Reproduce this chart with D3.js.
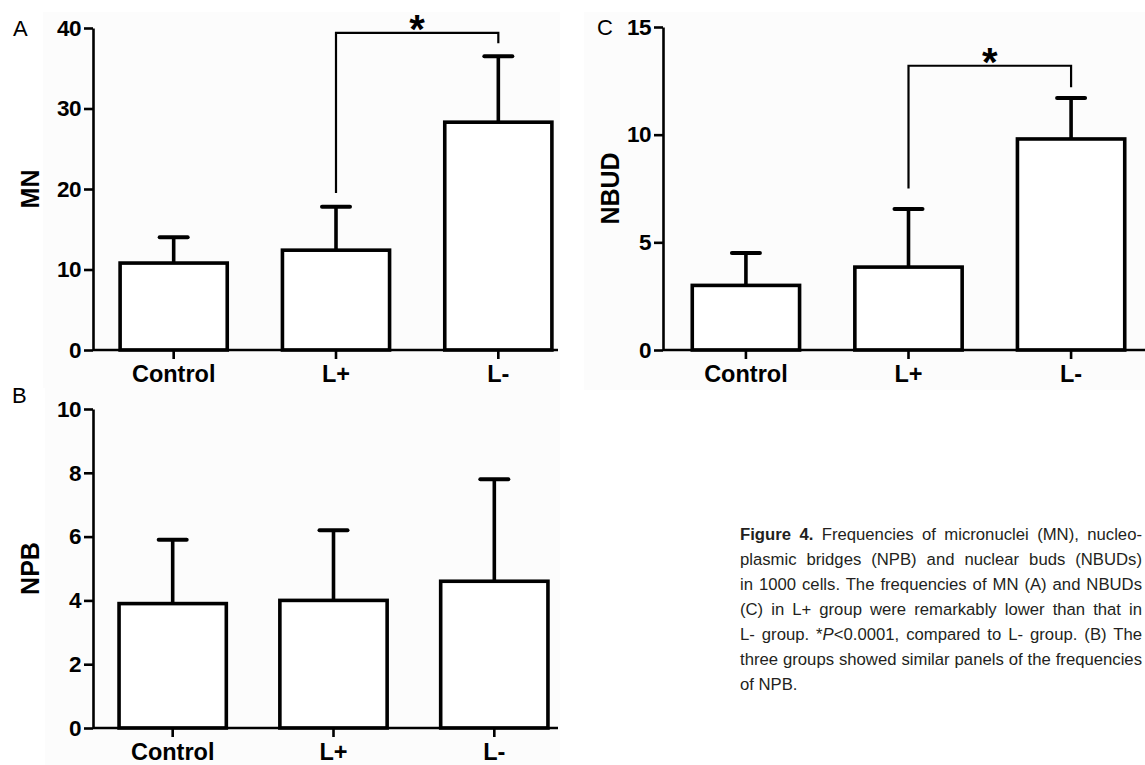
<!DOCTYPE html>
<html>
<head>
<meta charset="utf-8">
<script src="https://cdn.jsdelivr.net/npm/d3@7"></script>
<style>
  body { margin: 0; background: #fff; }
  svg { display: block; }
</style>
</head>
<body>
<svg id="fig" width="1145" height="765"></svg>
<script>
// groups
var cats = ['Control', 'L+', 'L-'];

// MN (panel A)
var mnMean = [10.8, 12.4, 28.3];
var mnSd = [3.2, 5.4, 8.2];
var mnTicks = [0, 10, 20, 30, 40];
var mnSig = { from: 'L+', to: 'L-', low: 19.5, top: 39.4, end: 38.1, mark: '*' };

// NPB (panel B)
var npbMean = [3.9, 4.0, 4.6];
var npbSd = [2.0, 2.2, 3.2];
var npbTicks = [0, 2, 4, 6, 8, 10];

// NBUD (panel C)
var nbudMean = [3.0, 3.85, 9.8];
var nbudSd = [1.5, 2.7, 1.9];
var nbudTicks = [0, 5, 10, 15];
var nbudSig = { from: 'L+', to: 'L-', low: 7.5, top: 13.2, end: 12.2, mark: '*' };

var caption = [
  [{ t: 'Figure 4.', b: 1 }, { t: ' Frequencies of micronuclei (MN), nucleo-' }],
  [{ t: 'plasmic bridges (NPB) and nuclear buds (NBUDs)' }],
  [{ t: 'in 1000 cells. The frequencies of MN (A) and NBUDs' }],
  [{ t: '(C) in L+ group were remarkably lower than that in' }],
  [{ t: 'L- group. *' }, { t: 'P', i: 1 }, { t: '<0.0001, compared to L- group. (B) The' }],
  [{ t: 'three groups showed similar panels of the frequencies' }],
  [{ t: 'of NPB.' }]
];

var svg = d3.select('#fig');
var FONT = '"Liberation Sans", Arial, Helvetica, sans-serif';

function panel(o) {
  var g = svg.append('g');
  g.append('rect').attr('x', o.bg[0]).attr('y', o.bg[1]).attr('width', o.bg[2]).attr('height', o.bg[3]).attr('fill', '#fcfcfc');

  var x = d3.scaleBand().domain(cats).range([o.x0, o.x1]).paddingInner(o.pi).paddingOuter(o.po);
  var y = d3.scaleLinear().domain([0, o.max]).range([o.y0, o.y1]);
  var bw = x.bandwidth();
  var rows = cats.map(function(c, i) { return { c: c, m: o.mean[i], s: o.sd[i] }; });

  // error bars (upper only)
  g.selectAll('line.err').data(rows).join('line')
    .attr('x1', function(d) { return x(d.c) + bw / 2; }).attr('x2', function(d) { return x(d.c) + bw / 2; })
    .attr('y1', function(d) { return y(d.m); }).attr('y2', function(d) { return y(d.m + d.s); })
    .attr('stroke', '#000').attr('stroke-width', 3.6);
  g.selectAll('line.cap').data(rows).join('line')
    .attr('x1', function(d) { return x(d.c) + bw / 2 - 14; }).attr('x2', function(d) { return x(d.c) + bw / 2 + 14; })
    .attr('y1', function(d) { return y(d.m + d.s); }).attr('y2', function(d) { return y(d.m + d.s); })
    .attr('stroke', '#000').attr('stroke-width', 4).attr('stroke-linecap', 'round');

  // bars
  g.selectAll('rect.bar').data(rows).join('rect')
    .attr('x', function(d) { return x(d.c); }).attr('y', function(d) { return y(d.m); })
    .attr('width', bw).attr('height', function(d) { return o.y0 - y(d.m); })
    .attr('fill', '#fff').attr('stroke', '#000').attr('stroke-width', 3.6);

  // y axis
  var ya = g.append('g').attr('transform', 'translate(' + o.x0 + ',0)')
    .call(d3.axisLeft(y).tickValues(o.ticks).tickSize(9).tickPadding(3).tickSizeOuter(0));
  ya.select('.domain').attr('stroke-width', 2.6);
  ya.selectAll('.tick line').attr('stroke-width', 2.6);
  ya.selectAll('.tick text').attr('font-family', FONT).attr('font-weight', 'bold')
    .attr('font-size', 22.5).attr('fill', '#000').attr('letter-spacing', -0.5);

  // x axis
  var xa = g.append('g').attr('transform', 'translate(0,' + o.y0 + ')')
    .call(d3.axisBottom(x).tickSize(9).tickPadding(6).tickSizeOuter(0));
  xa.select('.domain').remove();
  xa.append('line').attr('x1', o.x0).attr('x2', o.xEnd).attr('y1', 0).attr('y2', 0)
    .attr('stroke', '#000').attr('stroke-width', 2.6);
  xa.selectAll('.tick line').attr('stroke-width', 2.6);
  xa.selectAll('.tick text').attr('font-family', FONT).attr('font-weight', 'bold')
    .attr('font-size', 23.5).attr('fill', '#000');

  // y title
  g.append('text').attr('transform', 'translate(' + o.titleX + ',' + (o.y0 + o.y1) / 2 + ') rotate(-90)')
    .attr('text-anchor', 'middle').attr('dy', '0.36em')
    .attr('font-family', FONT).attr('font-weight', 'bold').attr('font-size', 25).text(o.title);

  // panel letter
  g.append('text').attr('x', o.letter[0]).attr('y', o.letter[1])
    .attr('font-family', FONT).attr('font-size', 22).text(o.letterText);

  // significance bracket
  if (o.sig) {
    var s = o.sig;
    var xa1 = x(s.from) + bw / 2, xb1 = x(s.to) + bw / 2;
    g.append('path')
      .attr('d', 'M' + xa1 + ',' + y(s.low) + 'V' + y(s.top) + 'H' + xb1 + 'V' + y(s.end))
      .attr('fill', 'none').attr('stroke', '#000').attr('stroke-width', 2.2);
    g.append('text').attr('x', (xa1 + xb1) / 2).attr('y', y(s.top) + 10)
      .attr('text-anchor', 'middle').attr('font-family', FONT).attr('font-weight', 'bold')
      .attr('font-size', 40).text(s.mark);
  }
}

panel({ mean: mnMean, sd: mnSd, ticks: mnTicks, max: 40, sig: mnSig, title: 'MN',
  x0: 93, x1: 579, pi: 0.34, po: 0.167, xEnd: 558, y0: 350, y1: 28,
  titleX: 30, letter: [13, 36], letterText: 'A', bg: [43, 12, 517, 376] });

panel({ mean: npbMean, sd: npbSd, ticks: npbTicks, max: 10, title: 'NPB',
  x0: 93, x1: 574, pi: 0.333, po: 0.162, xEnd: 558, y0: 728, y1: 409,
  titleX: 30, letter: [12, 403], letterText: 'B', bg: [45, 388, 515, 377] });

panel({ mean: nbudMean, sd: nbudSd, ticks: nbudTicks, max: 15, sig: nbudSig, title: 'NBUD',
  x0: 663, x1: 1154, pi: 0.34, po: 0.18, xEnd: 1145, y0: 350, y1: 27,
  titleX: 610, letter: [597, 35], letterText: 'C', bg: [584, 12, 561, 378] });

// caption, justified lines kept inside the picture
var capW = 402;
var capSize = 17;
var capLines = caption.map(function(line, i) {
  var t = svg.append('text').attr('x', 740).attr('y', 540 + i * 25)
    .attr('font-family', FONT).attr('font-size', capSize).attr('fill', '#231f20');
  line.forEach(function(p) {
    t.append('tspan').attr('font-weight', p.b ? 'bold' : null)
      .attr('font-style', p.i ? 'italic' : null).text(p.t);
  });
  return t;
});
var widest = d3.max(capLines.slice(0, -1), function(t) { return t.node().getComputedTextLength(); });
if (widest > capW - 2) {
  capSize = capSize * (capW - 2) / widest;
  capLines.forEach(function(t) { t.attr('font-size', capSize); });
}
capLines.forEach(function(t, i) {
  if (i === capLines.length - 1) return;
  var full = caption[i].map(function(p) { return p.t; }).join('');
  var gaps = full.split(' ').length - 1;
  var nat = t.node().getComputedTextLength();
  t.attr('word-spacing', (capW - nat) / gaps);
});
</script>
</body>
</html>
